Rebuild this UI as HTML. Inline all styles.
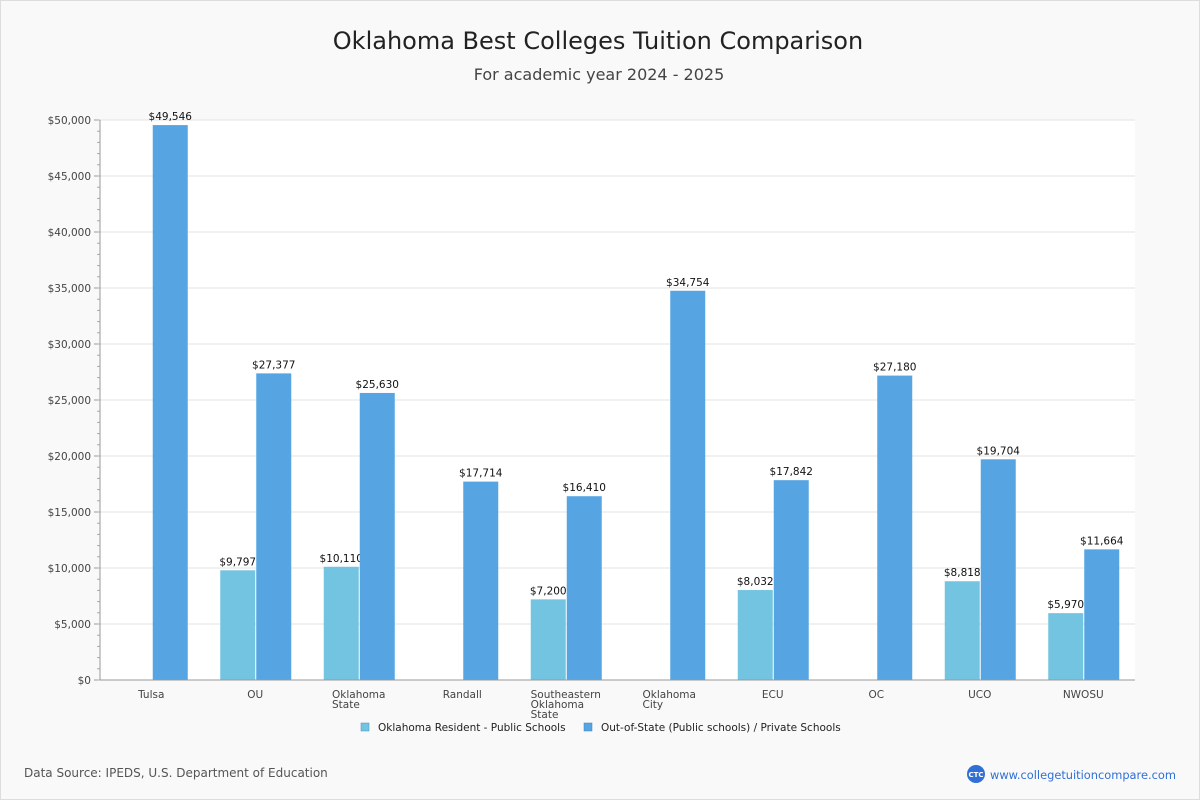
<!DOCTYPE html>
<html><head><meta charset="utf-8">
<style>
body{margin:0;background:#fff;font-family:"DejaVu Sans","Liberation Sans",sans-serif;}
#wrap{position:relative;width:1198px;height:798px;border:1px solid #ddd;background:#f9f9f9;overflow:hidden}
</style></head><body>
<div id="wrap">
<svg id="chart" width="1198" height="798" style="font-family:'DejaVu Sans','Liberation Sans',sans-serif">
<text x="597" y="48" text-anchor="middle" font-size="24" fill="#222">Oklahoma Best Colleges Tuition Comparison</text>
<text x="598" y="79" text-anchor="middle" font-size="16" fill="#444">For academic year 2024 - 2025</text>
<rect x="99" y="119" width="1035" height="560" fill="#fff"/>
<g id="grid"></g><g id="bars"></g><g id="axes"></g>
<g>
<rect x="360" y="722" width="8" height="8" fill="#73c4e0" stroke="#4a90c0" stroke-width="0.5"/>
<text x="377" y="730" font-size="10.5" fill="#222">Oklahoma Resident - Public Schools</text>
<rect x="583" y="722" width="8" height="8" fill="#56a5e2" stroke="#3a80c0" stroke-width="0.5"/>
<text x="600" y="730" font-size="10.5" fill="#222">Out-of-State (Public schools) / Private Schools</text>
</g>
<text x="23" y="776" font-size="12" fill="#555">Data Source: IPEDS, U.S. Department of Education</text>
<g>
<circle cx="975" cy="773" r="9" fill="#2f6fd6"/>
<text x="975" y="776" text-anchor="middle" font-size="7" fill="#fff" font-weight="bold">CTC</text>
<text x="989" y="778" font-size="11.4" fill="#2f6fd6">www.collegetuitioncompare.com</text>
</g>
</svg>
</div>
<script>
const categories=[["Tulsa"],["OU"],["Oklahoma","State"],["Randall"],["Southeastern","Oklahoma","State"],["Oklahoma","City"],["ECU"],["OC"],["UCO"],["NWOSU"]];
const residentValues=[null,9797,10110,null,7200,null,8032,null,8818,5970];
const outStateValues=[49546,27377,25630,17714,16410,34754,17842,27180,19704,11664];
const yTicks=[0,5000,10000,15000,20000,25000,30000,35000,40000,45000,50000];
const NS="http://www.w3.org/2000/svg";
const X0=99,X1=1134,Y0=679,Y1=119,YMAX=50000;
const yScale=v=>Y0-(v/YMAX)*(Y0-Y1);
const band=(X1-X0)/categories.length;
const xCenter=i=>X0+band*(i+0.5);
function mk(tag,attrs,parent,txt){const e=document.createElementNS(NS,tag);for(const k in attrs)e.setAttribute(k,attrs[k]);if(txt!=null)e.textContent=txt;parent.appendChild(e);return e;}
const fmt=v=>"$"+v.toLocaleString("en-US");
const grid=document.getElementById("grid"),bars=document.getElementById("bars"),axes=document.getElementById("axes");
yTicks.forEach(t=>{
  const y=yScale(t);
  if(t>0){const g=mk("line",{x1:X0,x2:X1,y1:y,y2:y,stroke:"#e3e3e3"},grid);
  
  }
  const l=mk("text",{x:90,y:y+4,"text-anchor":"end","font-size":10.5,fill:"#444"},axes,fmt(t));
  
  
  mk("line",{x1:X0-6,x2:X0,y1:y,y2:y,stroke:"#999"},axes);
});
for(let v=0;v<=YMAX;v+=1000){const y=yScale(v);mk("line",{x1:X0-3,x2:X0,y1:y,y2:y,stroke:"#aaa"},axes);}
mk("line",{x1:X0,x2:X0,y1:Y1,y2:Y0,stroke:"#999"},axes);
mk("line",{x1:X0,x2:X1,y1:Y0,y2:Y0,stroke:"#999"},axes);
const BW=35;
categories.forEach((c,i)=>{
  const cx=xCenter(i);
  const r=residentValues[i];
  if(r!=null){
    const b=mk("rect",{x:cx-35,y:yScale(r),width:BW,height:Y0-yScale(r),fill:"#73c4e0"},bars);
    
    
    const t=mk("text",{x:cx-17.5,y:yScale(r)-5,"text-anchor":"middle","font-size":10.5,fill:"#111"},bars,fmt(r));
    
    
  }
  const o=outStateValues[i];
  const b2=mk("rect",{x:cx+1,y:yScale(o),width:BW,height:Y0-yScale(o),fill:"#56a5e2"},bars);
  
  
  const t2=mk("text",{x:cx+18.5,y:yScale(o)-5,"text-anchor":"middle","font-size":10.5,fill:"#111"},bars,fmt(o));
  
  
  const g=mk("text",{x:cx,y:697,"font-size":10.5,fill:"#444"},axes);
  
  
  c.forEach((line,j)=>{mk("tspan",{x:cx,dy:j?10:0},g,line);});
  const w=g.getBBox().width;
  [...g.children].forEach(ts=>ts.setAttribute("x",cx-w/2));
});
</script>
</body></html>
